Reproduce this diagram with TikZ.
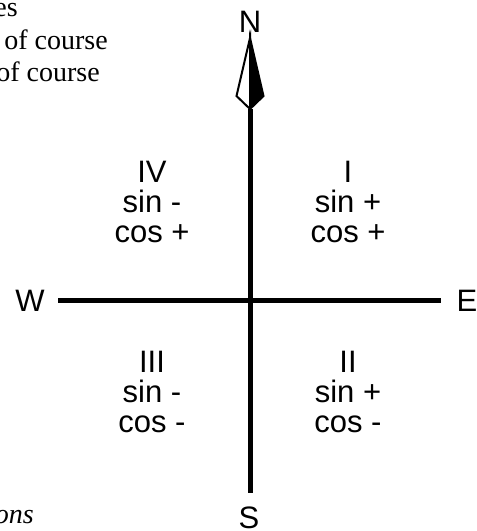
\documentclass[tikz,border=0pt]{standalone}
\usepackage{fontspec}
\setmainfont{Liberation Serif}
\newfontfamily\compassfont{Liberation Sans}
\usepackage{tikz}

\begin{document}
\begin{tikzpicture}[x=1pt, y=1pt,
    axis/.style={line width=5pt},
    dirlabel/.style={font=\compassfont\fontsize{31}{30}\selectfont, inner sep=0pt},
    quadlabel/.style={font=\compassfont\fontsize{31}{30}\selectfont, align=center, inner sep=0pt, anchor=base},
    margintext/.style={font=\fontsize{28}{32}\selectfont, inner sep=0pt, anchor=base east}]
  \useasboundingbox (0, 0) rectangle (477, 531);
  \clip (0, 0) rectangle (477, 531);
  % cut-off text at the page edge
  \node[margintext] (txta) at (18, 514) {es};
  \node[margintext] (txtb) at (108, 481) {of course};
  \node[margintext] (txtc) at (100, 449) {of course};
  \node[margintext, font=\itshape\fontsize{28}{32}\selectfont] (txtd) at (34, 7) {ons};
  % axes
  \coordinate (tip) at (250, 493);
  \coordinate (notch) at (250, 422);
  \coordinate (bottom) at (250, 38);
  \coordinate (west) at (58, 230);
  \coordinate (east) at (441, 230);
  \draw[axis] (notch) -- (bottom);
  \draw[axis] (west) -- (east);
  % north arrow
  \filldraw[fill=white, line width=2pt, line join=miter] (tip) -- (236.5, 435) -- (notch) -- cycle;
  \filldraw[fill=black, line width=2pt, line join=miter] (tip) -- (263.5, 435) -- (notch) -- cycle;
  % directions
  \node[dirlabel] (north) at (250, 509) {N};
  \node[dirlabel] (south) at (249, 13) {S};
  \node[dirlabel] (wlabel) at (30, 230) {W};
  \node[dirlabel] (elabel) at (467, 230) {E};
  % quadrants (base = last line)
  \node[quadlabel] (q1) at (348, 288) {I\\sin +\\cos +};
  \node[quadlabel] (q4) at (152, 288) {IV\\sin -\\cos +};
  \node[quadlabel] (q3) at (152, 98) {III\\sin -\\cos -};
  \node[quadlabel] (q2) at (348, 98) {II\\sin +\\cos -};
\end{tikzpicture}
\end{document}
